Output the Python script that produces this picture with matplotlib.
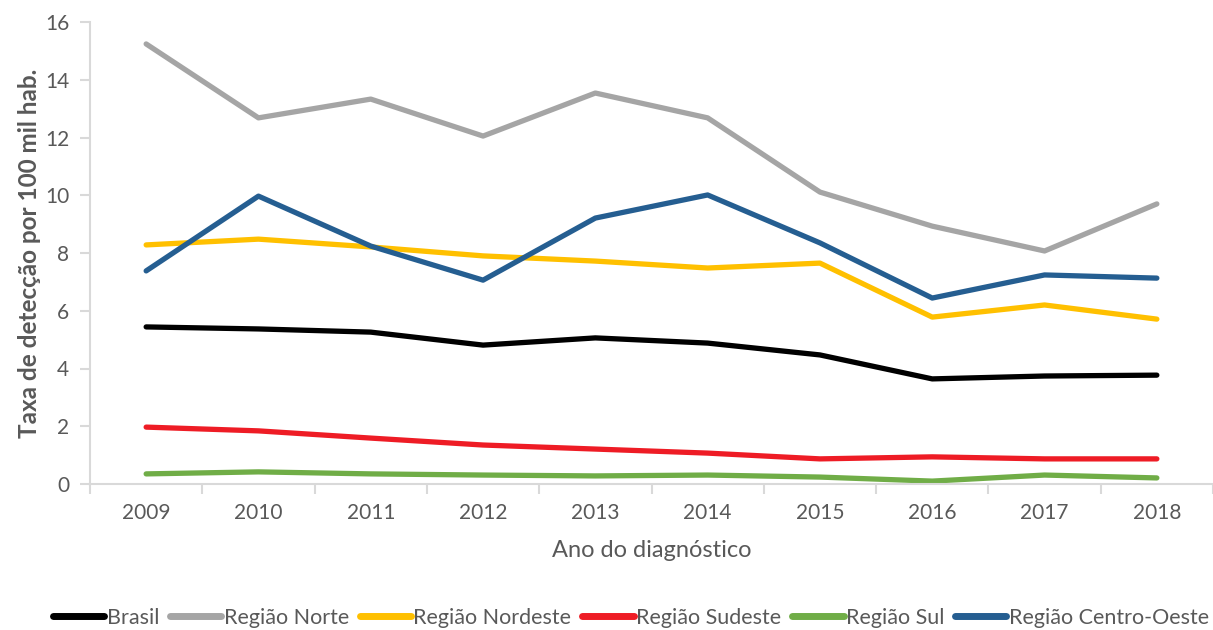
import matplotlib
matplotlib.use("Agg")
import matplotlib.pyplot as plt
import numpy as np

plt.rcParams['font.family'] = ['Lato', 'DejaVu Sans']

years = ['2009', '2010', '2011', '2012', '2013', '2014', '2015', '2016', '2017', '2018']
brasil = [5.44, 5.37, 5.26, 4.81, 5.06, 4.88, 4.47, 3.64, 3.74, 3.77]
norte = [15.24, 12.68, 13.33, 12.05, 13.54, 12.68, 10.11, 8.93, 8.07, 9.70]
nordeste = [8.28, 8.48, 8.21, 7.90, 7.72, 7.48, 7.65, 5.78, 6.20, 5.71]
sudeste = [1.97, 1.84, 1.59, 1.35, 1.21, 1.07, 0.87, 0.94, 0.87, 0.87]
sul = [0.35, 0.42, 0.35, 0.31, 0.28, 0.31, 0.24, 0.10, 0.31, 0.21]
centro_oeste = [7.38, 9.97, 8.24, 7.06, 9.21, 10.01, 8.35, 6.44, 7.24, 7.13]

series = [
    ('Brasil', brasil, '#000000'),
    ('Região Norte', norte, '#A5A5A5'),
    ('Região Nordeste', nordeste, '#FFC000'),
    ('Região Sudeste', sudeste, '#EE1C25'),
    ('Região Sul', sul, '#70AD47'),
    ('Região Centro-Oeste', centro_oeste, '#255E91'),
]

fig = plt.figure(figsize=(12.13, 6.30), dpi=100)
ax = fig.add_axes([90/1213, (630-484)/630, 1 - 90/1213, (484-22)/630])

x = np.arange(len(years))
for name, vals, col in series:
    ax.plot(x, vals, color=col, lw=3.8, label=name, solid_capstyle='round')

ax.set_ylim(0, 16)
ax.set_yticks(np.arange(0, 17, 2))
ax.set_xlim(-0.5, 9.4)
ax.set_xticks(x)
ax.set_xticklabels(years)
ax.set_xticks(np.arange(-0.5, 10, 1), minor=True)
ax.tick_params(axis='x', which='major', length=0, pad=14, labelsize=15, colors='#595959')
ax.tick_params(axis='x', which='minor', length=7, width=1.5, color='#D9D9D9', direction='out')
ax.tick_params(axis='y', length=7, width=1.5, color='#D9D9D9', labelsize=15, labelcolor='#595959', pad=8)

for s in ['top', 'right']:
    ax.spines[s].set_visible(False)
for s in ['left', 'bottom']:
    ax.spines[s].set_color('#D9D9D9')
    ax.spines[s].set_linewidth(1.5)

ax.set_xlabel('Ano do diagnóstico', fontsize=17, color='#595959', labelpad=12)
ax.set_ylabel('Taxa de detecção por 100 mil hab.', fontsize=17.5, color='#595959',
              fontweight='bold', labelpad=3)

leg = fig.legend(loc='center', bbox_to_anchor=(0.52, (630-618)/630), ncol=6,
                 frameon=False, fontsize=15.5, handlelength=2.4, handletextpad=0.1,
                 columnspacing=0.5, labelcolor='#595959')
for h in leg.get_lines():
    h.set_linewidth(5)

fig.savefig('out.png', dpi=100)
